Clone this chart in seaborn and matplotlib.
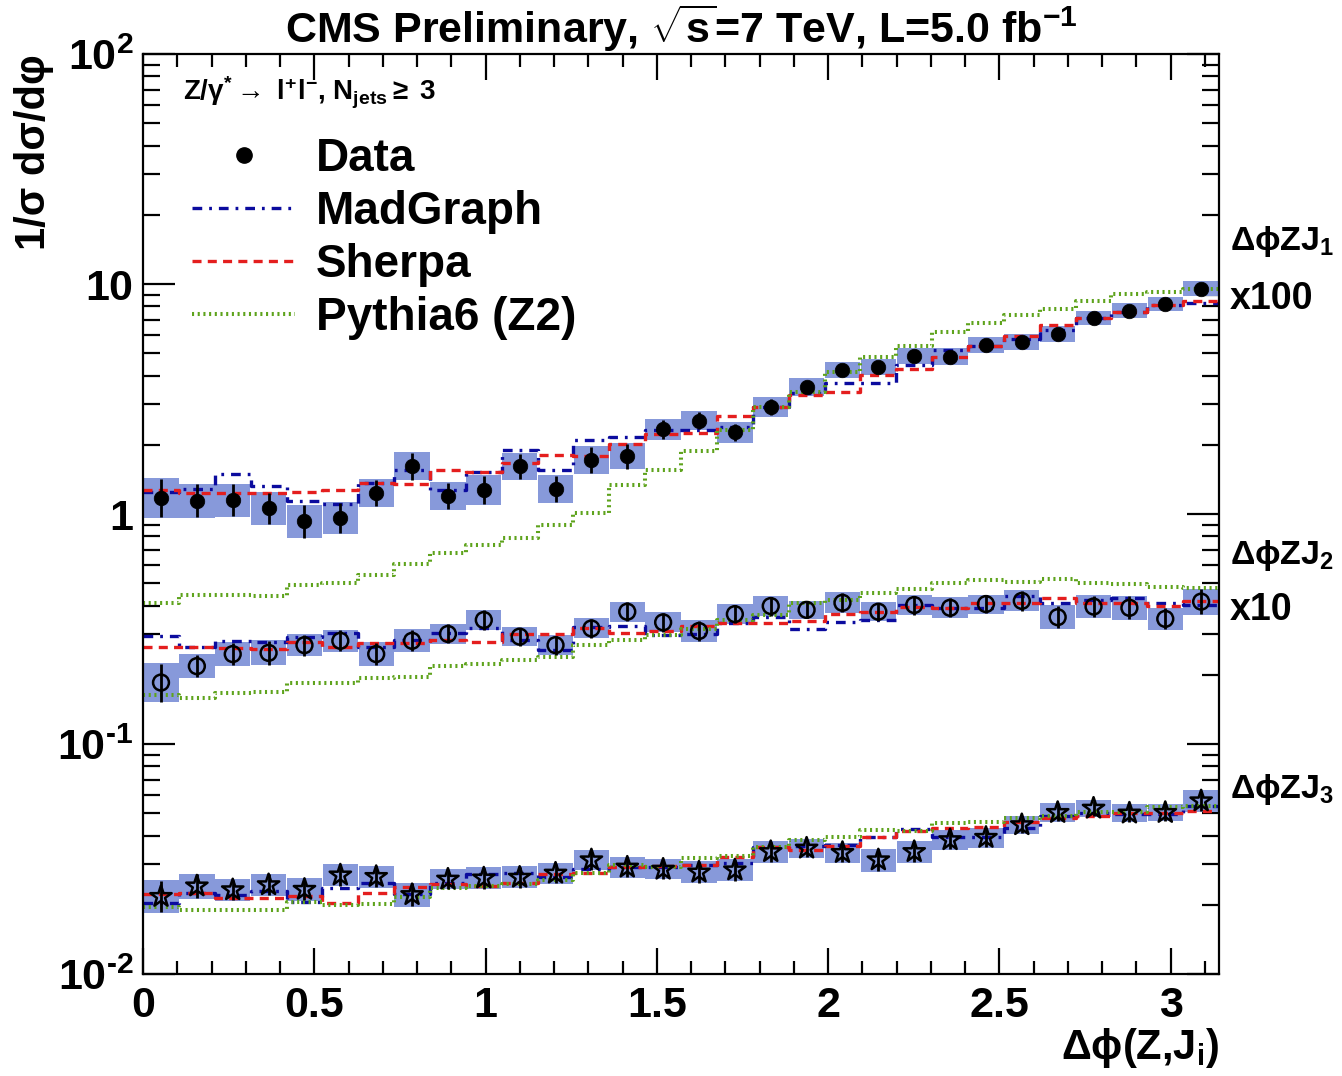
import numpy as np
import pandas as pd
import matplotlib
matplotlib.use("Agg")
import matplotlib.pyplot as plt
from matplotlib.lines import Line2D
from matplotlib.ticker import FixedLocator, FixedFormatter, LogLocator, MultipleLocator, NullFormatter
import seaborn as sns

# ---------------------------------------------------------------------------
# Binning: 30 equal bins in delta-phi between Z and jet i
# ---------------------------------------------------------------------------
n_bins = 30
edges = np.linspace(0.0, np.pi, n_bins + 1)
centers = 0.5 * (edges[:-1] + edges[1:])
bin_w = edges[1] - edges[0]

# Delta-phi(Z, J1), scaled by 100
zj1_data = [1.17, 1.14, 1.15, 1.06, 0.93, 0.96, 1.23, 1.61, 1.20, 1.27,
            1.61, 1.28, 1.72, 1.78, 2.34, 2.55, 2.27, 2.92, 3.57, 4.23,
            4.37, 4.88, 4.83, 5.43, 5.60, 6.06, 7.14, 7.66, 8.17, 9.55]
zj1_sys = [22, 19, 18, 18, 18, 17, 15, 15, 15, 16, 14, 15, 15, 14, 11,
           10.5, 11, 10.7, 9, 8.7, 8.5, 8.5, 9.2, 8.7, 8.3, 8.3, 7.4, 7.8, 7.3, 7.8]
zj1_stat = [21, 18, 17, 17, 18, 16, 14, 14, 14, 15, 13, 14, 14, 13, 10,
            9, 9, 8.5, 6, 6, 5.5, 5.5, 5.5, 5, 5, 5, 4.5, 4.5, 4, 4]
zj1_madgraph = [1.25, 1.29, 1.49, 1.32, 1.14, 1.11, 1.36, 1.56, 1.27, 1.53,
                1.90, 1.55, 2.10, 2.17, 2.33, 2.32, 2.40, 2.93, 3.35, 3.73,
                3.72, 4.44, 5.16, 5.38, 5.75, 6.31, 7.09, 7.58, 8.10, 8.24]
zj1_sherpa = [1.27, 1.23, 1.23, 1.23, 1.25, 1.27, 1.36, 1.35, 1.56, 1.53,
              1.66, 1.80, 1.79, 2.02, 2.23, 2.24, 2.68, 2.93, 3.29, 3.40,
              4.02, 4.27, 4.83, 5.38, 5.94, 6.64, 7.09, 7.58, 8.10, 8.46]
zj1_pythia = [0.411, 0.445, 0.445, 0.438, 0.491, 0.500, 0.543, 0.607, 0.679, 0.733,
              0.783, 0.893, 1.007, 1.34, 1.56, 1.87, 2.33, 2.93, 3.40, 4.16,
              4.80, 5.38, 6.21, 6.79, 7.33, 7.76, 8.46, 9.05, 9.20, 9.51]

# Delta-phi(Z, J2), scaled by 10
zj2_data = [0.185, 0.218, 0.246, 0.249, 0.269, 0.281, 0.246, 0.281, 0.301, 0.346,
            0.293, 0.269, 0.318, 0.376, 0.338, 0.310, 0.367, 0.398, 0.383, 0.411,
            0.376, 0.402, 0.391, 0.406, 0.419, 0.356, 0.396, 0.391, 0.350, 0.416]
zj2_sys = [21.6, 12.9, 12.9, 13.3, 11.8, 11.6, 12.7, 12.0, 10.5, 10.7,
           10.3, 10.9, 10.5, 10.5, 10.5, 11.3, 10.2, 10.5, 9.6, 11.1,
           10.2, 10.9, 10.9, 10.0, 11.1, 12.4, 11.8, 12.7, 11.8, 13.9]
zj2_stat = [21, 12, 12, 12.5, 11, 11, 12, 11, 10, 10,
            9.5, 10, 10, 10, 10, 10.5, 9.5, 10, 9, 10,
            9.5, 10, 10, 9.5, 10.5, 11.5, 11, 12, 11, 13]
zj2_madgraph = [0.295, 0.265, 0.281, 0.279, 0.291, 0.305, 0.263, 0.283, 0.305, 0.318,
                0.283, 0.256, 0.324, 0.326, 0.298, 0.300, 0.335, 0.358, 0.315, 0.340,
                0.346, 0.402, 0.389, 0.389, 0.440, 0.411, 0.423, 0.430, 0.409, 0.402]
zj2_sherpa = [0.263, 0.263, 0.261, 0.258, 0.279, 0.263, 0.276, 0.276, 0.283, 0.279,
              0.301, 0.301, 0.318, 0.305, 0.310, 0.326, 0.337, 0.337, 0.344, 0.367,
              0.376, 0.393, 0.389, 0.409, 0.409, 0.430, 0.409, 0.409, 0.398, 0.419]
zj2_pythia = [0.163, 0.158, 0.166, 0.169, 0.185, 0.185, 0.193, 0.196, 0.218, 0.223,
              0.233, 0.240, 0.269, 0.283, 0.298, 0.316, 0.346, 0.364, 0.411, 0.423,
              0.452, 0.471, 0.503, 0.516, 0.508, 0.522, 0.503, 0.497, 0.483, 0.479]

# Delta-phi(Z, J3), unscaled
zj3_data = [0.0217, 0.0241, 0.0232, 0.0244, 0.0233, 0.0269, 0.0265, 0.0221, 0.0258, 0.0261,
            0.0263, 0.0274, 0.0313, 0.0291, 0.0285, 0.0277, 0.0283, 0.0340, 0.0352, 0.0337,
            0.0313, 0.0340, 0.0383, 0.0392, 0.0445, 0.0503, 0.0525, 0.0500, 0.0503, 0.0565]
zj3_sys = [17.6, 13.3, 11.8, 12.0, 11.8, 12.0, 11.8, 12.9, 10.5, 11.6,
           11.6, 10.9, 10.7, 10.9, 10.5, 11.5, 11.8, 11.5, 10.0, 10.5,
           12.2, 11.8, 10.5, 10.5, 9.4, 9.6, 8.7, 9.6, 9.1, 11.5]
zj3_stat = [17, 12.5, 11, 11, 11, 11, 11, 12, 10, 11,
            11, 10, 10, 10, 10, 11, 11, 10.5, 9, 10,
            11.5, 11, 10, 10, 9, 9, 8, 9, 8.5, 10.5]
zj3_madgraph = [0.0204, 0.0226, 0.0221, 0.0230, 0.0206, 0.0236, 0.0249, 0.0223, 0.0249, 0.0272,
                0.0274, 0.0265, 0.0285, 0.0293, 0.0291, 0.0298, 0.0305, 0.0356, 0.0360, 0.0364,
                0.0393, 0.0426, 0.0395, 0.0395, 0.0430, 0.0486, 0.0503, 0.0496, 0.0496, 0.0537]
zj3_sherpa = [0.0223, 0.0226, 0.0213, 0.0213, 0.0218, 0.0203, 0.0226, 0.0238, 0.0246, 0.0242,
              0.0248, 0.0272, 0.0274, 0.0293, 0.0294, 0.0298, 0.0324, 0.0356, 0.0346, 0.0360,
              0.0395, 0.0420, 0.0430, 0.0434, 0.0460, 0.0475, 0.0486, 0.0503, 0.0503, 0.0513]
zj3_pythia = [0.0196, 0.0189, 0.0189, 0.0190, 0.0206, 0.0200, 0.0201, 0.0217, 0.0236, 0.0241,
              0.0246, 0.0256, 0.0274, 0.0298, 0.0293, 0.0318, 0.0326, 0.0356, 0.0383, 0.0395,
              0.0423, 0.0420, 0.0452, 0.0460, 0.0475, 0.0486, 0.0508, 0.0508, 0.0534, 0.0540]

series_labels = [r"$\mathrm{\Delta\phi}$ZJ$_{1}$", r"$\mathrm{\Delta\phi}$ZJ$_{2}$",
                 r"$\mathrm{\Delta\phi}$ZJ$_{3}$"]
series_scale_labels = ["x100", "x10", ""]
x_ticks = [0, 0.5, 1, 1.5, 2, 2.5, 3]
x_tick_labels = ["0", "0.5", "1", "1.5", "2", "2.5", "3"]
y_ticks = [0.01, 0.1, 1, 10, 100]
y_tick_labels = ["10$^{\u2010 2}$", "10$^{\u2010 1}$", "1", "10", r"10$^{2}$"]
legend_labels = ["Data", "MadGraph", "Sherpa", "Pythia6 (Z2)"]

# ---------------------------------------------------------------------------
# Style
# ---------------------------------------------------------------------------
sns.set_style("ticks")
plt.rcParams["font.family"] = ["Liberation Sans", "DejaVu Sans"]
plt.rcParams["font.weight"] = "bold"
plt.rcParams["text.color"] = "black"
plt.rcParams["axes.labelcolor"] = "black"
plt.rcParams["axes.edgecolor"] = "black"
plt.rcParams["xtick.color"] = "black"
plt.rcParams["ytick.color"] = "black"
plt.rcParams["mathtext.fontset"] = "custom"
plt.rcParams["mathtext.rm"] = "Liberation Sans"
plt.rcParams["mathtext.it"] = "Liberation Sans:bold"
plt.rcParams["mathtext.bf"] = "Liberation Sans:bold"
plt.rcParams["mathtext.default"] = "bf"
plt.rcParams["lines.scale_dashes"] = False
plt.rcParams["axes.linewidth"] = 1.6

box_color = "#8799da"
mg_color = "#0b0b9e"
sh_color = "#e41e1e"
py_color = "#5ea31c"
mc_lw = 2.4
py_lw = 2.9
mg_ls = (0, (7, 5, 2, 5))
sh_ls = (0, (6.5, 4.5))
py_ls = (0, (1.5, 2.6))

fig = plt.figure(figsize=(13.42, 10.76), dpi=100)
ax = fig.add_axes([0.1066, 0.0948, 0.8018, 0.855])
ax.set_yscale("log")
ax.set_xlim(0, np.pi)
ax.set_ylim(0.01, 100)

all_series = [
    (zj1_data, zj1_sys, zj1_stat, zj1_madgraph, zj1_sherpa, zj1_pythia, "o", True),
    (zj2_data, zj2_sys, zj2_stat, zj2_madgraph, zj2_sherpa, zj2_pythia, "o", False),
    (zj3_data, zj3_sys, zj3_stat, zj3_madgraph, zj3_sherpa, zj3_pythia, "*", False),
]


def draw_hist(values, color, ls, lw):
    xs = np.append(edges[:-1], edges[-1])
    ys = np.append(values, values[-1])
    df = pd.DataFrame({"x": xs, "y": ys})
    sns.lineplot(data=df, x="x", y="y", drawstyle="steps-post", color=color,
                 linestyle=ls, linewidth=lw, estimator=None, sort=False,
                 ax=ax, zorder=2)


for data, sys_pct, stat_pct, mg, sh, py, mk, filled in all_series:
    v = np.array(data)
    rs = np.array(sys_pct) / 100.0
    rt = np.array(stat_pct) / 100.0
    lo = v / (1 + rs)
    hi = v * (1 + rs)
    ax.bar(centers, hi - lo, bottom=lo, width=bin_w * 0.985, color=box_color,
           linewidth=0, zorder=1)
    draw_hist(np.array(mg), mg_color, mg_ls, mc_lw)
    draw_hist(np.array(sh), sh_color, sh_ls, mc_lw)
    draw_hist(np.array(py), py_color, py_ls, py_lw)
    ax.errorbar(centers, v, yerr=[v - v / (1 + rt), v * rt], fmt="none",
                ecolor="black", elinewidth=2.0, capsize=0, zorder=3)
    pts = pd.DataFrame({"x": centers, "y": v})
    if filled:
        sns.scatterplot(data=pts, x="x", y="y", marker=mk, s=110, color="black",
                        edgecolor="black", linewidth=0.5, ax=ax, zorder=4)
    else:
        size = 130 if mk == "o" else 260
        sns.scatterplot(data=pts, x="x", y="y", marker=mk, s=size, facecolor="none",
                        edgecolor="black", linewidth=1.8, ax=ax, zorder=4)

# ---------------------------------------------------------------------------
# Axes, ticks and labels
# ---------------------------------------------------------------------------
ax.xaxis.set_major_locator(FixedLocator(x_ticks))
ax.xaxis.set_major_formatter(FixedFormatter(x_tick_labels))
ax.xaxis.set_minor_locator(MultipleLocator(0.1))
ax.yaxis.set_major_locator(FixedLocator(y_ticks))
ax.yaxis.set_major_formatter(FixedFormatter(y_tick_labels))
ax.yaxis.set_minor_locator(LogLocator(base=10, subs=np.arange(2, 10)))
ax.yaxis.set_minor_formatter(NullFormatter())

ax.tick_params(axis="both", which="both", direction="in", top=True, right=True,
               width=1.6, colors="black")
ax.tick_params(axis="x", which="major", length=19, labelsize=31, pad=9)
ax.tick_params(axis="x", which="minor", length=9.5)
ax.tick_params(axis="y", which="major", length=23, labelsize=31, pad=7)
ax.tick_params(axis="y", which="minor", length=12)
for lab in ax.get_xticklabels() + ax.get_yticklabels():
    lab.set_fontweight("bold")
for sp in ax.spines.values():
    sp.set_visible(True)
    sp.set_color("black")

ax.set_xlabel(r"$\mathrm{\Delta\phi}$(Z,J$_{i}$)", fontsize=30, fontweight="bold", loc="right")
ax.xaxis.set_label_coords(1.0, -0.056)
ax.set_ylabel("1/σ dσ/dφ", fontsize=30, fontweight="bold", loc="top")
ax.yaxis.set_label_coords(-0.083, 1.0)

ax.set_title(r"CMS Preliminary, $\sqrt{s}$=7 TeV, L=5.0 fb$^{-1}$", fontsize=31,
             fontweight="bold", pad=3)

# Channel header
ax.text(0.037, 0.958, r"Z/$\gamma^{*}$$\rightarrow$ l$^{+}$l$^{-}$, N$_{jets}$$\geq$ 3",
        transform=ax.transAxes, fontsize=20, fontweight="bold", ha="left", va="center")

# Legend
handles = [
    Line2D([], [], ls="none", marker="o", color="black", markersize=11),
    Line2D([], [], color=mg_color, ls=mg_ls, lw=mc_lw),
    Line2D([], [], color=sh_color, ls=sh_ls, lw=mc_lw),
    Line2D([], [], color=py_color, ls=py_ls, lw=py_lw),
]
ax.legend(handles, legend_labels, loc="upper left", bbox_to_anchor=(0.0455, 0.91),
          frameon=False, prop={"weight": "bold", "size": 33}, handlelength=2.25,
          handletextpad=0.45, labelspacing=0.2, borderpad=0, borderaxespad=0)

# Series annotations at the right edge
label_pos = [(0.7957, 0.734), (0.4554, 0.3957), (0.200, None)]
for lab, scale_lab, (y1, y2) in zip(series_labels, series_scale_labels, label_pos):
    ax.text(1.0102, y1, lab, transform=ax.transAxes, fontsize=24.5, fontweight="bold",
            ha="left", va="center", clip_on=False)
    if scale_lab:
        ax.text(1.0102, y2, scale_lab, transform=ax.transAxes, fontsize=27,
                fontweight="bold", ha="left", va="center", clip_on=False)

fig.savefig("out.png", dpi=100)
